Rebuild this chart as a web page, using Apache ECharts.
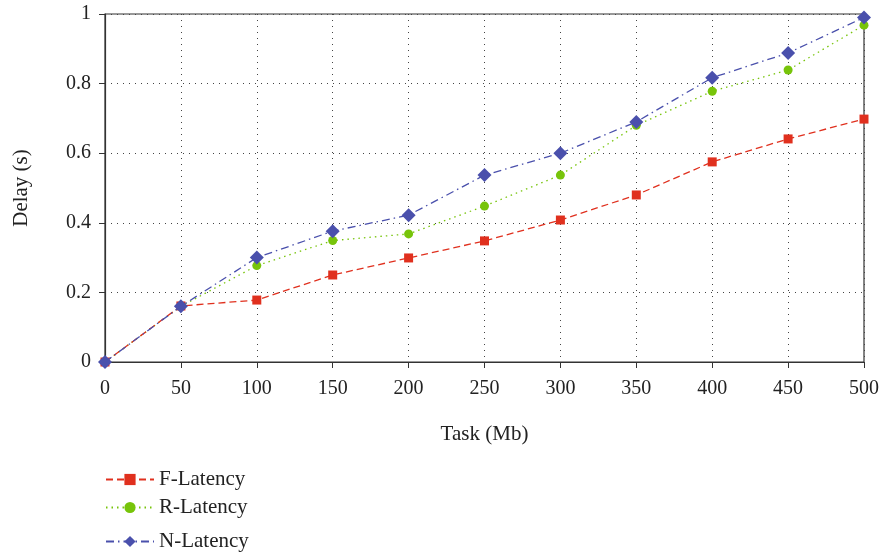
<!DOCTYPE html>
<html><head><meta charset="utf-8">
<script src="https://cdn.jsdelivr.net/npm/echarts@6/dist/echarts.min.js"></script>
<style>html,body{margin:0;padding:0;background:#fff}#c{width:882px;height:555px}</style>
</head><body><div id="c"></div>
<script>
const categories = [0,50,100,150,200,250,300,350,400,450,500];
const fLatency = [0,0.161,0.178,0.25,0.299,0.348,0.408,0.48,0.575,0.641,0.698];
const rLatency = [0,0.16,0.277,0.349,0.368,0.448,0.537,0.68,0.778,0.839,0.968];
const nLatency = [0,0.16,0.30,0.376,0.422,0.537,0.60,0.69,0.817,0.888,0.99];
const seriesNames = ['F-Latency','R-Latency','N-Latency'];

const font = 'Liberation Serif';
const chart = echarts.init(document.getElementById('c'));
function pairs(arr){return categories.map((x,i)=>[x,arr[i]]);}
const legendBase = {orient:'vertical', left:100, itemWidth:48, itemHeight:14,
  textStyle:{fontFamily:font,fontSize:21,color:'#222'}, itemGap:8};
chart.setOption({
  animation:false,
  backgroundColor:'#fff',
  grid:{left:105,right:17,top:14,bottom:193,show:true,borderColor:'#333',borderWidth:1.2},
  legend:[
    Object.assign({},legendBase,{top:464,data:[seriesNames[0]]}),
    Object.assign({},legendBase,{top:492,data:[seriesNames[1]]}),
    Object.assign({},legendBase,{top:526,data:[seriesNames[2]]})
  ],
  xAxis:{type:'value',min:0,max:500,interval:50,
    name:'Task (Mb)',nameLocation:'middle',nameGap:62,
    nameTextStyle:{fontFamily:font,fontSize:21,color:'#222'},
    axisLine:{lineStyle:{color:'#333',width:1.2}},
    axisTick:{show:true,length:6,lineStyle:{color:'#333'}},
    axisLabel:{fontFamily:font,fontSize:20,color:'#222',margin:17},
    splitLine:{show:true,lineStyle:{color:'#444',type:[1,5],width:1}}},
  yAxis:{type:'value',min:0,max:1,interval:0.2,
    name:'Delay (s)',nameLocation:'middle',nameGap:73,
    nameTextStyle:{fontFamily:font,fontSize:21,color:'#222'},
    axisLine:{show:true,lineStyle:{color:'#333',width:1.2}},
    axisTick:{show:true,length:6,lineStyle:{color:'#333'}},
    axisLabel:{fontFamily:font,fontSize:20,color:'#222',margin:14,
      formatter:v=>String(Math.round(v*10)/10)},
    splitLine:{show:true,lineStyle:{color:'#444',type:[1,5],width:1}}},
  series:[
    {name:seriesNames[0],type:'line',data:pairs(fLatency),symbol:'rect',symbolSize:9,
      itemStyle:{color:'#e0301e'},lineStyle:{color:'#e0301e',width:1.3,type:[7,4]},z:3},
    {name:seriesNames[1],type:'line',data:pairs(rLatency),symbol:'circle',symbolSize:9,
      itemStyle:{color:'#77c40a'},lineStyle:{color:'#77c40a',width:1.3,type:[1.5,4]},z:2},
    {name:seriesNames[2],type:'line',data:pairs(nLatency),symbol:'diamond',symbolSize:14,
      itemStyle:{color:'#4a50ac'},lineStyle:{color:'#4a50ac',width:1.3,type:[8,4,1.5,4]},z:4}
  ]
});
</script></body></html>
